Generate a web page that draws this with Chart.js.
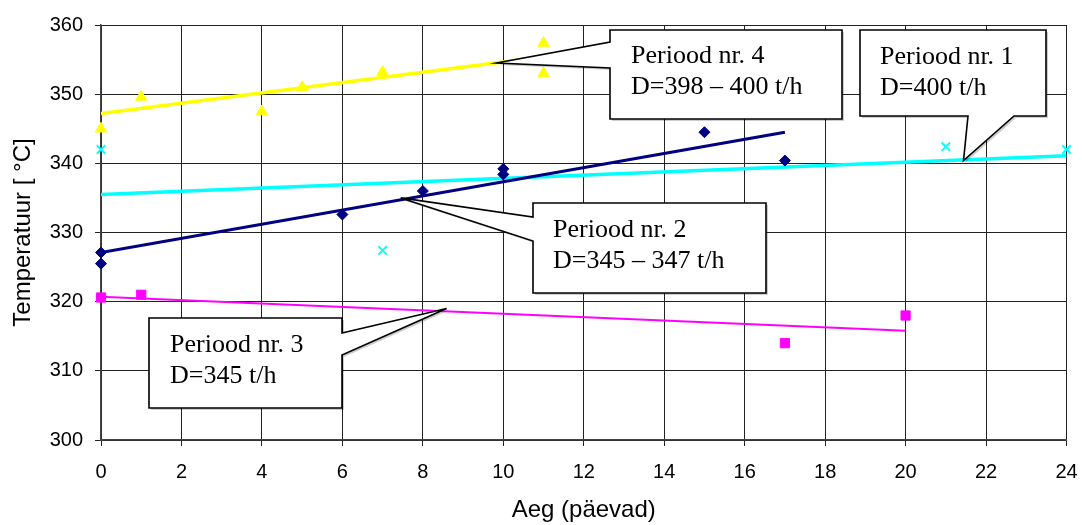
<!DOCTYPE html>
<html>
<head>
<meta charset="utf-8">
<script src="https://cdn.jsdelivr.net/npm/chart.js@4.4.1/dist/chart.umd.min.js"></script>
<style>
  html, body { margin: 0; padding: 0; background: #fff; }
  #wrap { width: 1082px; height: 525px; }
</style>
</head>
<body>
<div id="wrap"><canvas id="myChart"></canvas></div>
<script>
// measured points (days, temperature)
const days4 = [0, 1, 4, 5, 7, 11, 11];
const temp4 = [345, 349.6, 347.5, 351, 353.2, 357.4, 353];
const days2 = [0, 0, 6, 8, 10, 10, 15, 17];
const temp2 = [327.1, 325.5, 332.6, 336, 339.2, 338.4, 344.5, 340.4];
const days1 = [0, 7, 21, 24];
const temp1 = [342, 327.4, 342.4, 342];
const days3 = [0, 1, 17, 20];
const temp3 = [320.6, 321, 314, 318];

// trend line end points
const trendDays4 = [0, 11];
const trendTemp4 = [347.2, 355.4];
const trendDays2 = [0, 17];
const trendTemp2 = [327.1, 344.5];
const trendDays1 = [0, 24];
const trendTemp1 = [335.5, 341.1];
const trendDays3 = [0, 20];
const trendTemp3 = [320.7, 315.8];

const xTicks = [0, 2, 4, 6, 8, 10, 12, 14, 16, 18, 20, 22, 24];
const yTicks = [300, 310, 320, 330, 340, 350, 360];

const pts = (xs, ys) => xs.map((x, i) => ({ x: x, y: ys[i] }));

// callout boxes (box in px, tip in data units)
const callouts = [
  { lines: ['Periood nr. 4', 'D=398 \u2013 400 t/h'], box: [610, 30, 842, 119], tip: [9.83, 354.5], side: 'left', join: [42, 68], text: [631, 56] },
  { lines: ['Periood nr. 1', 'D=400 t/h'], box: [860, 30, 1046, 116], tip: [21.44, 340.4], side: 'bottom', join: [968, 1014], text: [880, 57] },
  { lines: ['Periood nr. 2', 'D=345 \u2013 347 t/h'], box: [533, 203, 766, 293], tip: [7.45, 335.0], side: 'left', join: [217, 241], text: [553, 230] },
  { lines: ['Periood nr. 3', 'D=345 t/h'], box: [149, 318, 342, 408], tip: [8.59, 319.0], side: 'right', join: [333, 355], text: [170, 345] }
];

const calloutPlugin = {
  id: 'callouts',
  afterDraw(chart) {
    const ctx = chart.ctx;
    const xs = chart.scales.x, ys = chart.scales.y;
    callouts.forEach(c => {
      const [l, t, r, b] = c.box;
      const tx = xs.getPixelForValue(c.tip[0]);
      const ty = ys.getPixelForValue(c.tip[1]);
      const [j1, j2] = c.join;
      ctx.save();
      ctx.beginPath();
      if (c.side === 'left') {
        ctx.moveTo(l, t); ctx.lineTo(r, t); ctx.lineTo(r, b); ctx.lineTo(l, b);
        ctx.lineTo(l, j2); ctx.lineTo(tx, ty); ctx.lineTo(l, j1);
      } else if (c.side === 'right') {
        ctx.moveTo(l, t); ctx.lineTo(r, t); ctx.lineTo(r, j1); ctx.lineTo(tx, ty);
        ctx.lineTo(r, j2); ctx.lineTo(r, b); ctx.lineTo(l, b);
      } else {
        ctx.moveTo(l, t); ctx.lineTo(r, t); ctx.lineTo(r, b); ctx.lineTo(j2, b);
        ctx.lineTo(tx, ty); ctx.lineTo(j1, b); ctx.lineTo(l, b);
      }
      ctx.closePath();
      ctx.shadowColor = 'rgba(0,0,0,0.2)';
      ctx.shadowOffsetX = 2;
      ctx.shadowOffsetY = 2;
      ctx.fillStyle = '#fff';
      ctx.fill();
      ctx.shadowColor = 'transparent';
      ctx.lineWidth = 1.6;
      ctx.strokeStyle = '#000';
      ctx.lineJoin = 'miter';
      ctx.stroke();
      ctx.fillStyle = '#000';
      ctx.font = '26px "Liberation Serif", "Times New Roman", serif';
      ctx.textBaseline = 'middle';
      ctx.textAlign = 'left';
      c.lines.forEach((s, i) => ctx.fillText(s, c.text[0], c.text[1] + i * 31));
      ctx.restore();
    });
  }
};

const tickFont = { family: '"Liberation Sans", Arial, sans-serif', size: 20 };
const titleFont = { family: '"Liberation Sans", Arial, sans-serif', size: 24 };

new Chart(document.getElementById('myChart').getContext('2d'), {
  type: 'scatter',
  data: {
    datasets: [
      { label: 'P4', data: pts(days4, temp4), pointStyle: 'triangle', radius: 6.5, backgroundColor: '#FFFF00', borderColor: '#FFFF00', borderWidth: 1, clip: false },
      { label: 'P2', data: pts(days2, temp2), pointStyle: 'rectRot', radius: 5.5, backgroundColor: '#000080', borderColor: '#000080', borderWidth: 1, clip: false },
      { label: 'P1', data: pts(days1, temp1), pointStyle: 'crossRot', radius: 6, backgroundColor: '#00FFFF', borderColor: '#00FFFF', borderWidth: 1.8, clip: false },
      { label: 'P3', data: pts(days3, temp3), pointStyle: 'rect', radius: 6.5, backgroundColor: '#FF00FF', borderColor: '#FF00FF', borderWidth: 1, clip: false },
      { type: 'line', label: 'T4', data: pts(trendDays4, trendTemp4), borderColor: '#FFFF00', borderWidth: 3.5, pointRadius: 0, fill: false },
      { type: 'line', label: 'T2', data: pts(trendDays2, trendTemp2), borderColor: '#000080', borderWidth: 3, pointRadius: 0, fill: false },
      { type: 'line', label: 'T1', data: pts(trendDays1, trendTemp1), borderColor: '#00FFFF', borderWidth: 3.5, pointRadius: 0, fill: false },
      { type: 'line', label: 'T3', data: pts(trendDays3, trendTemp3), borderColor: '#FF00FF', borderWidth: 2, pointRadius: 0, fill: false }
    ]
  },
  options: {
    responsive: true,
    maintainAspectRatio: false,
    animation: false,
    layout: { padding: { top: 25, right: 15.5, left: 0, bottom: 0 } },
    plugins: { legend: { display: false }, tooltip: { enabled: false } },
    scales: {
      x: {
        type: 'linear', min: 0, max: 24,
        afterBuildTicks: s => { s.ticks = xTicks.map(v => ({ value: v })); },
        afterFit: s => { s.height = 85; s.paddingRight = 0; s.paddingLeft = 0; },
        ticks: { font: tickFont, color: '#000', padding: 14, maxRotation: 0 },
        grid: { color: '#222', lineWidth: 1, tickLength: 6, tickColor: '#222' },
        border: { color: '#444', width: 1.5 },
        title: { display: true, text: 'Aeg (päevad)', color: '#000', font: titleFont, padding: { top: 0, bottom: 0 } }
      },
      y: {
        type: 'linear', min: 300, max: 360,
        afterBuildTicks: s => { s.ticks = yTicks.map(v => ({ value: v })); },
        afterFit: s => { s.width = 101; },
        ticks: { font: tickFont, color: '#000', padding: 12 },
        grid: { color: '#222', lineWidth: 1, tickLength: 6, tickColor: '#222' },
        border: { color: '#444', width: 1.5 },
        title: { display: true, text: 'Temperatuur [ °C]', color: '#000', font: titleFont, padding: { top: 9, bottom: 0 } }
      }
    }
  },
  plugins: [calloutPlugin]
});
</script>
</body>
</html>
